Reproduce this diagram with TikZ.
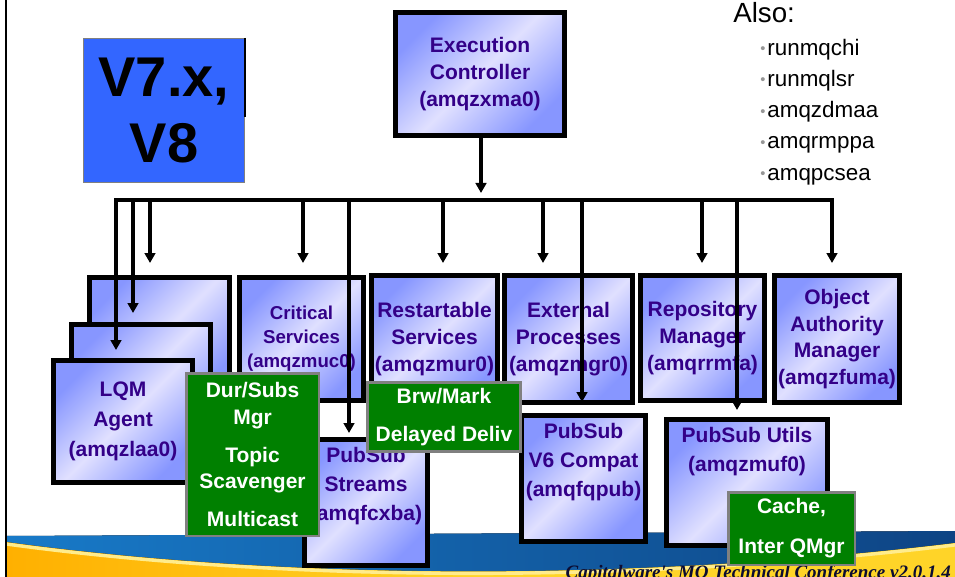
\documentclass[tikz,border=0pt]{standalone}
\usepackage{fontspec}
\setmainfont{Liberation Sans}
\newfontfamily\footfont{Liberation Serif}
\usetikzlibrary{arrows.meta}
\definecolor{boxdark}{RGB}{135,150,255}
\definecolor{boxlight}{RGB}{224,224,255}
\definecolor{boxtext}{RGB}{51,0,136}
\definecolor{grnfill}{RGB}{0,128,0}
\definecolor{grnline}{RGB}{128,128,128}
\definecolor{vblue}{RGB}{51,102,255}
\definecolor{bulletgray}{RGB}{150,150,150}
\definecolor{bannerblue}{RGB}{24,122,200}
\definecolor{bannernavy}{RGB}{14,68,132}
\definecolor{banneryel}{RGB}{255,212,40}
\definecolor{bannerorg}{RGB}{255,176,0}
\definecolor{bannerpale}{RGB}{255,236,140}
\definecolor{footcol}{RGB}{12,12,50}
\newcommand\procfont{\bfseries\fontsize{15.75}{20}\selectfont}
\newcommand\blt{{\color{bulletgray}\raisebox{1.2pt}{\fontsize{11}{11}\selectfont •}}\hspace{1.5pt}}
\tikzset{
  procbox/.style={draw=black,line width=3.75pt,inner sep=0pt,top color=boxdark,bottom color=boxdark,middle color=boxlight,shading angle=45,text=boxtext,font=\procfont,align=center},
  proctext/.style={text=boxtext,align=center,font=\bfseries\fontsize{15.75}{21.75}\selectfont},
  grnbox/.style={draw=grnline,line width=1.9pt,fill=grnfill,inner sep=0pt,text=white,font=\procfont,align=center},
  arr/.style={line width=3pt,->},
}
\begin{document}
\begin{tikzpicture}[x=0.75pt,y=-0.75pt,>={Triangle[width=8pt,length=7.5pt]}]
\useasboundingbox(0,0)rectangle(955,577);
\clip(0,0)rectangle(955,577);
% banner at the foot
\fill[left color=bannerblue,right color=bannernavy](6,536)--(955,531)--(955,577)--(6,577)--cycle;
\fill[left color=bannerorg,right color=banneryel,middle color=banneryel](6,542)..controls(300,582)and(650,580)..(955,543)--(955,577)--(6,577)--cycle;
\draw[line width=2.5pt,bannerpale](6,544)..controls(300,584)and(650,582)..(955,545);
\draw[line width=1.2pt](6,0)--(6,577);
\node[font=\footfont\bfseries\itshape\fontsize{14.25}{14.25}\selectfont,text=footcol,anchor=base east,inner sep=0pt](footer)at(951,578){Capitalware's MQ Technical Conference v2.0.1.4};

\node[draw=grnline,line width=0.75pt,fill=vblue,minimum width=120.75pt,minimum height=108pt,inner sep=0pt,align=center,font=\bfseries\fontsize{42}{50}\selectfont](ver)at(164,110.5){V7.x,\\V8};
\draw[line width=1pt](ver.north east)--++(0,79);

\node[anchor=west,inner sep=0pt,font=\fontsize{20.8}{24}\selectfont](also)at(733,12.5){Also:};
\node[anchor=west,inner sep=0pt,align=left,font=\fontsize{16.8}{23.4}\selectfont](alsolist)at(760,112){\blt runmqchi\\\blt runmqlsr\\\blt amqzdmaa\\\blt amqrmppa\\\blt amqpcsea};

\node[procbox,minimum width=126.75pt,minimum height=92.25pt](exec)at(480,74){Execution\\Controller\\(amqzxma0)};

% process boxes
\node[procbox,minimum width=105pt,minimum height=90pt](lqm3)at(159.5,337.5){};
\node[procbox,minimum width=104.25pt,minimum height=84.75pt](lqm2)at(141,381){};
\node[procbox,minimum width=104.25pt,minimum height=91.5pt,font=\bfseries\fontsize{15.75}{22.5}\selectfont](lqm1)at(123,421.5){LQM\\Agent\\(amqzlaa0)};
\node[procbox,minimum width=93pt,minimum height=92.25pt,font=\bfseries\fontsize{14}{18}\selectfont](crit)at(301.5,339){Critical\\Services\\(amqzmuc0)};
\node[procbox,minimum width=94.5pt,minimum height=95.25pt](rest)at(434.5,339){Restartable\\Services\\(amqzmur0)};
\node[procbox,minimum width=96pt,minimum height=95.25pt](ext)at(568.5,339){External\\Processes\\(amqzmgr0)};
\node[procbox,minimum width=93pt,minimum height=93.75pt](repo)at(702.5,338){Repository\\Manager\\(amqrrmfa)};
\node[procbox,minimum width=93.75pt,minimum height=95.25pt](oam)at(837,339){Object\\Authority\\Manager\\(amqzfuma)};
\node[procbox,minimum width=92.25pt,minimum height=94.5pt](streams)at(366,502.5){};
\node[proctext](streams-t)at(366,486){PubSub\\Streams\\(amqfcxba)};
\node[procbox,minimum width=93pt,minimum height=94.5pt](v6)at(583.5,478.5){};
\node[proctext](v6-t)at(583.5,462){PubSub\\V6 Compat\\(amqfqpub)};
\node[procbox,minimum width=120.75pt,minimum height=94.5pt](utils)at(747,482.5){};
\node[proctext](utils-t)at(747,452){PubSub Utils\\(amqzmuf0)};

% bus and drops
\coordinate(busL)at(116,200);
\coordinate(busR)at(832,200);
\coordinate(exec-out)at(481,193);
\coordinate(lq1-in)at(116,350);
\coordinate(lq2-in)at(133,313);
\coordinate(lq3-in)at(150,263);
\coordinate(crit-in)at(303,263);
\coordinate(strm-in)at(349,433);
\coordinate(rest-in)at(443,263);
\coordinate(ext-in)at(543,263);
\coordinate(v6-in)at(582,402);
\coordinate(repo-in)at(702,263);
\coordinate(util-in)at(737,410);
\coordinate(oam-in)at(832,263);
\draw[arr](exec.south -| exec-out)--(exec-out);
\draw[arr,<->,line join=miter](lq1-in)--(busL)--(busR)--(oam-in);
\foreach \d in {lq2-in,lq3-in,crit-in,strm-in,rest-in,ext-in,v6-in,repo-in,util-in}
  \draw[arr](\d |- busL)--(\d);

% green notes
\node[grnbox,minimum width=99.4pt,minimum height=121.9pt](dursubs)at(252.5,454.5){Dur/Subs\\Mgr\\[8.5pt]Topic\\Scavenger\\[8.5pt]Multicast};
\node[grnbox,minimum width=115.1pt,minimum height=52.1pt](brw)at(444,417){Brw/Mark\\[8.5pt]Delayed Deliv};
\node[grnbox,minimum width=94.9pt,minimum height=54.4pt](cache)at(791.5,528.5){Cache,\\[10pt]Inter QMgr};
\end{tikzpicture}
\end{document}
